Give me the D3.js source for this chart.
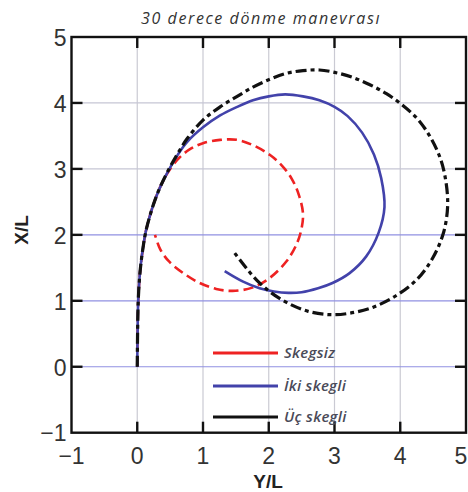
<!DOCTYPE html>
<html>
<head>
<meta charset="utf-8">
<script src="https://cdn.jsdelivr.net/npm/d3@7/dist/d3.min.js"></script>
<style>
  body { margin: 0; background: #fff; }
  svg { display: block; }
</style>
</head>
<body>
<svg id="chart" width="468" height="492"></svg>
<script>
// Trajectories as [Y/L, X/L] pairs
const skegsiz = [
    [0, 0], [0.005, 0.5], [0.015, 1.0], [0.035, 1.35], [0.06, 1.6], [0.09, 1.82],
    [0.13, 2.05], [0.19, 2.28], [0.26, 2.5], [0.36, 2.75], [0.5, 3.0],
    [0.65, 3.18], [0.82, 3.31], [1.0, 3.39], [1.26, 3.44], [1.52, 3.44],
    [1.76, 3.36], [2.02, 3.21], [2.2, 3.05], [2.35, 2.85], [2.46, 2.6],
    [2.52, 2.33], [2.5, 2.1], [2.42, 1.85], [2.27, 1.6], [2.02, 1.35],
    [1.75, 1.2], [1.45, 1.15], [1.2, 1.18], [0.95, 1.27], [0.7, 1.42],
    [0.48, 1.6], [0.35, 1.78], [0.27, 2.0]
];
const ikiSkegli = [
    [0, 0], [0.005, 0.5], [0.015, 1.0], [0.035, 1.35], [0.06, 1.6], [0.09, 1.82],
    [0.13, 2.05], [0.19, 2.28], [0.26, 2.5], [0.36, 2.75], [0.5, 3.02],
    [0.62, 3.22], [0.76, 3.41], [1.0, 3.63], [1.26, 3.81], [1.52, 3.94],
    [1.76, 4.04], [2.0, 4.1], [2.25, 4.13], [2.52, 4.1], [2.77, 4.04],
    [3.0, 3.94], [3.2, 3.8], [3.42, 3.55], [3.6, 3.22], [3.71, 2.86],
    [3.76, 2.42], [3.67, 2.03], [3.48, 1.67], [3.23, 1.42], [2.97, 1.27],
    [2.75, 1.19], [2.5, 1.13], [2.3, 1.12], [2.08, 1.14], [1.86, 1.19],
    [1.61, 1.29], [1.33, 1.45]
];
const ucSkegli = [
    [0, 0], [0.005, 0.5], [0.015, 1.0], [0.035, 1.35], [0.06, 1.6], [0.09, 1.82],
    [0.13, 2.05], [0.19, 2.28], [0.26, 2.5], [0.36, 2.75], [0.5, 3.03],
    [0.62, 3.24], [0.76, 3.46], [1.0, 3.74], [1.26, 3.94], [1.52, 4.1],
    [1.76, 4.24], [2.02, 4.36], [2.27, 4.45], [2.52, 4.49], [2.77, 4.5],
    [3.02, 4.46], [3.27, 4.39], [3.53, 4.28], [3.79, 4.14], [4.03, 3.97],
    [4.27, 3.75], [4.47, 3.46], [4.62, 3.13], [4.7, 2.77], [4.72, 2.42],
    [4.66, 2.04], [4.5, 1.66], [4.26, 1.33], [3.94, 1.08], [3.58, 0.9],
    [3.22, 0.81], [2.92, 0.79], [2.6, 0.84], [2.3, 0.96], [2.04, 1.12],
    [1.82, 1.31], [1.64, 1.52], [1.47, 1.74]
];

const seriesNames = ["Skegsiz", "İki skegli", "Üç skegli"];
const xTicks = [-1, 0, 1, 2, 3, 4, 5];
const yTicks = [-1, 0, 1, 2, 3, 4, 5];

const svg = d3.select("#chart");

const x = d3.scaleLinear().domain([-1, 5]).range([71.5, 466]);
const y = d3.scaleLinear().domain([-1, 5]).range([432.7, 37]);

// Grid
const grid = svg.append("g");
grid.selectAll("line.vg")
    .data(xTicks.slice(1, -1))
    .join("line")
    .attr("x1", d => x(d)).attr("x2", d => x(d))
    .attr("y1", y(-1)).attr("y2", y(5))
    .attr("stroke", "#cacad3")
    .attr("stroke-width", 1.2);
grid.selectAll("line.hg")
    .data(yTicks.slice(1, -1))
    .join("line")
    .attr("x1", x(-1)).attr("x2", x(5))
    .attr("y1", d => y(d)).attr("y2", d => y(d))
    .attr("stroke", d => d <= 2 ? "#9090e2" : "#c6c6d4")
    .attr("stroke-width", 1.2);

// Curves (red at the bottom, black on top)
const line = d3.line()
    .x(d => x(d[0]))
    .y(d => y(d[1]))
    .curve(d3.curveCatmullRom.alpha(0.5));

const styles = [
    { color: "#ee2222", width: 2.6, dash: "10,5" },
    { color: "#4242aa", width: 2.6, dash: null },
    { color: "#111111", width: 3.2, dash: "11,4,4,4" }
];

[skegsiz, ikiSkegli, ucSkegli].forEach((data, i) => {
    const s = styles[i];
    svg.append("path")
        .datum(data)
        .attr("fill", "none")
        .attr("stroke", s.color)
        .attr("stroke-width", s.width)
        .attr("stroke-dasharray", s.dash)
        .attr("d", line);
});

// Frame and ticks
svg.append("rect")
    .attr("x", x(-1)).attr("y", y(5))
    .attr("width", x(5) - x(-1)).attr("height", y(-1) - y(5))
    .attr("fill", "none")
    .attr("stroke", "#111")
    .attr("stroke-width", 2.4);

const tickLen = 11;
const ticks = svg.append("g").attr("stroke", "#111").attr("stroke-width", 2.4);
xTicks.slice(1, -1).forEach(t => {
    ticks.append("line").attr("x1", x(t)).attr("x2", x(t)).attr("y1", y(-1)).attr("y2", y(-1) - tickLen);
    ticks.append("line").attr("x1", x(t)).attr("x2", x(t)).attr("y1", y(5)).attr("y2", y(5) + tickLen);
});
yTicks.slice(1, -1).forEach(t => {
    ticks.append("line").attr("x1", x(-1)).attr("x2", x(-1) + tickLen).attr("y1", y(t)).attr("y2", y(t));
    ticks.append("line").attr("x1", x(5)).attr("x2", x(5) - tickLen).attr("y1", y(t)).attr("y2", y(t));
});

const fmt = d => d < 0 ? "\u2212" + Math.abs(d) : String(d);

svg.append("g")
    .attr("font-family", "Liberation Sans, Arial, sans-serif")
    .attr("font-size", 23)
    .attr("fill", "#333")
    .attr("text-anchor", "middle")
    .selectAll("text")
    .data(xTicks)
    .join("text")
    .attr("x", d => d === 5 ? x(d) - 5 : x(d))
    .attr("y", y(-1) + 31)
    .text(fmt);

svg.append("g")
    .attr("font-family", "Liberation Sans, Arial, sans-serif")
    .attr("font-size", 23)
    .attr("fill", "#333")
    .attr("text-anchor", "end")
    .selectAll("text")
    .data(yTicks)
    .join("text")
    .attr("x", x(-1) - 5)
    .attr("y", d => y(d) + 9 - (d < 0 ? 1 : 0))
    .text(fmt);

// Axis labels
svg.append("text")
    .attr("x", 268).attr("y", 488)
    .attr("text-anchor", "middle")
    .attr("font-family", "Liberation Sans, Arial, sans-serif")
    .attr("font-weight", "bold")
    .attr("font-size", 19)
    .attr("fill", "#222")
    .text("Y/L");

svg.append("text")
    .attr("transform", "translate(28,230) rotate(-90)")
    .attr("text-anchor", "middle")
    .attr("font-family", "Liberation Sans, Arial, sans-serif")
    .attr("font-weight", "bold")
    .attr("font-size", 19)
    .attr("fill", "#222")
    .text("X/L");

// Title
svg.append("text")
    .attr("x", 261).attr("y", 24)
    .attr("text-anchor", "middle")
    .attr("font-family", "Open Sans, sans-serif")
    .attr("font-style", "italic")
    .attr("font-size", 16)
    .attr("letter-spacing", 1.6)
    .attr("fill", "#333")
    .text("30 derece dönme manevrası");

// Legend
const legend = svg.append("g");
const legendY = [353, 386, 417];
seriesNames.forEach((name, i) => {
    const s = styles[i];
    legend.append("line")
        .attr("x1", 213).attr("x2", 278)
        .attr("y1", legendY[i]).attr("y2", legendY[i])
        .attr("stroke", s.color)
        .attr("stroke-width", 3);
    legend.append("text")
        .attr("x", 284).attr("y", legendY[i] + 5)
        .attr("font-family", "Open Sans, sans-serif")
        .attr("font-style", "italic")
        .attr("font-weight", 600)
        .attr("font-size", 15)
        .attr("letter-spacing", 0.3)
        .attr("fill", "#4a4a58")
        .text(name);
});
</script>
</body>
</html>
